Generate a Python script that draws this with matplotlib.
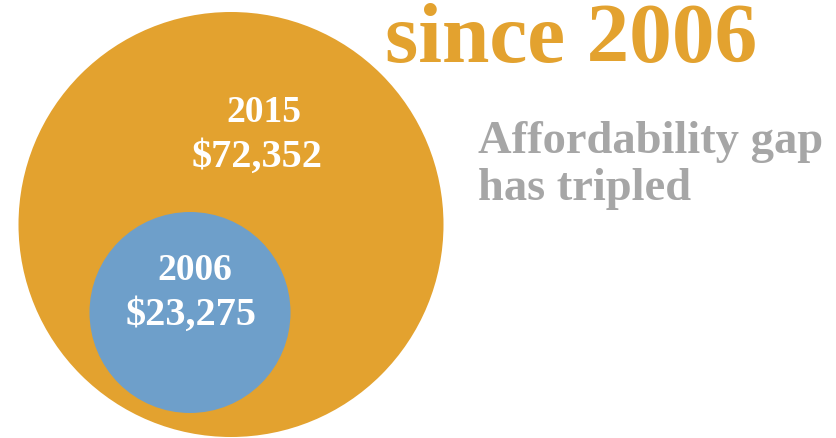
import matplotlib
matplotlib.use("Agg")
import matplotlib.pyplot as plt
from matplotlib.patches import Circle

# ---- data ----
years = ["2015", "2006"]
gaps = [72352, 23275]
title_text = "since 2006"
note_lines = ["Affordability gap", "has tripled"]

# ---- layout / style ----
W, H = 836, 438
circle_centers = [(231, 224.5), (190, 312.5)]
circle_radii = [212.5, 100.5]
circle_colors = ["#E3A22F", "#6E9FCA"]
year_label_pos = [(264, 122), (195, 280)]
value_label_pos = [(257, 167), (191, 325)]
serif = ["Liberation Serif", "DejaVu Serif"]

fig = plt.figure(figsize=(W / 100, H / 100), dpi=100)
ax = fig.add_axes([0, 0, 1, 1])
ax.set_xlim(0, W)
ax.set_ylim(H, 0)
ax.set_aspect("equal")
ax.axis("off")

for (cx, cy), r, col in zip(circle_centers, circle_radii, circle_colors):
    ax.add_patch(Circle((cx, cy), r, facecolor=col, edgecolor="none"))

for yr, val, (yx, yy), (vx, vy) in zip(years, gaps, year_label_pos, value_label_pos):
    ax.text(yx, yy, yr, color="white", fontsize=27, fontweight="bold",
            family=serif, ha="center", va="baseline")
    ax.text(vx, vy, f"${val:,}", color="white", fontsize=29, fontweight="bold",
            family=serif, ha="center", va="baseline")

ax.text(385, 62, title_text, color="#E3A22F", fontsize=61.5, fontweight="bold",
        family=serif, ha="left", va="baseline")

for i, line in enumerate(note_lines):
    ax.text(478, 153 + i * 47, line, color="#A6A6A6", fontsize=33.5,
            fontweight="bold", family=serif, ha="left", va="baseline")

fig.savefig("out.png", dpi=100, facecolor="white")
